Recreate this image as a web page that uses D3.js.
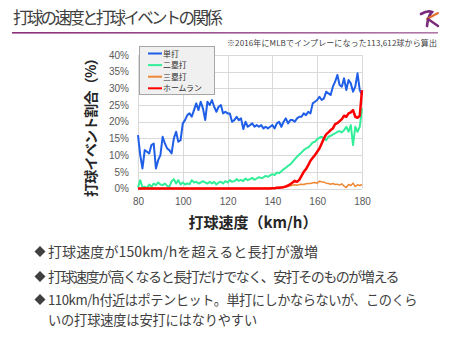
<!DOCTYPE html>
<html><head><meta charset="utf-8">
<script src="https://cdn.jsdelivr.net/npm/d3@7"></script>
<style>
html,body{margin:0;padding:0;background:#fff;}
svg{display:block;font-family:"Noto Sans CJK JP","Noto Sans",sans-serif;}
</style></head>
<body>
<svg id="c" width="450" height="337"></svg>
<script>
const speeds = d3.range(80, 181);
const single = [16,10,6,11.5,11,10.5,13,13.5,6,8.5,10,15.5,13.5,12,11.5,10.5,15,17,14,14.5,
19.5,20.5,22,22.5,21.5,23.5,25.5,23.5,26,24,20.5,26,25,26.5,24.5,23,24.5,25,22.5,23,
22.5,22.5,20,20.5,21.5,20.5,21,17.8,20,18.5,19,19.5,18.5,19,18.5,19,18,18.5,18,18.5,
19,18,19.5,20,18.5,20,21,19.5,20.5,20.5,20,21,21.5,21.5,22.5,22,23,22.5,25.5,26,
26.5,27.5,26.5,27,29,28.5,28,30.5,32,34,31,30.5,33,29.5,32.5,31.5,29,30.5,34.5,29.5,28];
const double = [0.3,2.5,0.3,0.5,0.2,1.2,0.5,1.5,1.0,1.8,1.2,1.0,1.5,0.8,0.5,2.2,2.8,1.5,2.5,1.2,
1.8,1.2,1.5,1.3,2.5,1.8,2.0,1.5,1.8,2.2,1.8,1.5,2.0,1.5,2.0,1.2,1.8,2.0,1.5,2.2,
1.8,2.5,2.0,2.2,2.8,2.3,2.6,2.2,3.0,2.5,2.8,3.2,2.6,3.0,3.4,3.1,3.3,3.8,3.5,3.9,
4.3,4.0,4.8,4.6,5.2,5.8,6.2,6.8,7.2,8.0,8.8,9.5,10.2,10.8,11.5,12.0,12.3,13.0,13.8,14.0,
14.8,15.2,15.5,15.0,14.5,15.5,15.8,16.2,16.5,17.0,17.2,16.8,17.5,18.5,17.0,19.0,13.0,18.5,17.0,18.5,24.0];
const triple = [0,0,0,0,0,0,0,0,0,0,0,0,0,0,0,0,0,0,0,0,
0,0,0,0,0,0,0,0,0,0,0,0,0,0,0,0,0,0,0,0,
0,0,0,0,0,0,0,0,0,0,0.1,0.1,0.1,0.1,0.1,0.1,0.1,0.2,0.1,0.2,
0.2,0.2,0.3,0.3,0.4,0.5,0.6,0.7,0.8,1.0,1.1,1.0,1.2,1.3,1.2,1.4,1.5,1.5,1.7,1.8,
1.6,2.2,2.0,1.9,1.6,1.5,1.3,1.5,1.2,1.3,1.0,1.4,0.7,0.3,1.2,0.9,1.6,0.6,1.1,0.9,1.2];
const homerun = [0,0,0,0,0,0,0,0,0,0,0,0,0,0,0,0,0,0,0,0,
0,0,0,0,0,0,0,0,0,0,0,0,0,0,0,0,0,0,0,0,
0,0,0,0,0,0,0,0,0,0,0,0,0,0,0,0,0,0,0,0,
0.1,0.1,0.2,0.2,0.3,0.4,0.6,0.9,1.3,1.8,2.3,2.0,2.6,3.8,5.0,5.8,7.0,8.3,9.2,10.0,
11.0,12.0,13.5,15.0,16.2,16.8,17.5,18.0,19.3,19.6,20.2,20.8,21.8,21.5,22.5,22.8,23.5,21.5,21.2,21.8,29.5];
const seriesNames = ["単打","二塁打","三塁打","ホームラン"];
const seriesColors = ["#1f5fe8","#33ee99","#ee8833","#ff0000"];
const seriesWidths = [2,2,1.5,2.5];
const xTicks = [80,100,120,140,160,180];
const yTicks = [0,5,10,15,20,25,30,35,40];
const title = "打球の速度と打球イベントの関係";
const note = "※2016年にMLBでインプレーになった113,612球から算出";
const xTitle = "打球速度（km/h）";
const yTitle = "打球イベント割合（%）";
const bullets = [
 {t:"打球速度が150km/hを超えると長打が激増", w:270, d:true},
 {t:"打球速度が高くなると長打だけでなく、安打そのものが増える", w:350, d:true},
 {t:"110km/h付近はポテンヒット。単打にしかならないが、このくら", w:369, d:true},
 {t:"いの打球速度は安打にはなりやすい", w:209, d:false}
];

const svg = d3.select("#c");
function fit(sel, target){
  const n = sel.node();
  const nat = n.getComputedTextLength();
  const len = sel.text().length;
  sel.attr("letter-spacing", ((target - nat)/len).toFixed(3) + "px");
  return sel;
}
// header
fit(svg.append("text").attr("x",13).attr("y",24).attr("font-size",16.5).attr("fill","#404040").text(title), 207);
const grad = svg.append("defs").append("linearGradient").attr("id","ul");
grad.append("stop").attr("offset","0%").attr("stop-color","#8a2e78");
grad.append("stop").attr("offset","100%").attr("stop-color","#b07aa8");
svg.append("rect").attr("x",12).attr("y",32).attr("width",426).attr("height",1.6).attr("fill","url(#ul)");
// logo
svg.append("path").attr("d","M421 14 Q428 10 432 12 Q428 16 427 26").attr("fill","none").attr("stroke","#7a2a7a").attr("stroke-width",2.6).attr("stroke-linecap","round");
svg.append("path").attr("d","M427 19 L438 13").attr("fill","none").attr("stroke","#e0702a").attr("stroke-width",2).attr("stroke-linecap","round");
svg.append("path").attr("d","M428 19 L438 26").attr("fill","none").attr("stroke","#7a2a7a").attr("stroke-width",2.4).attr("stroke-linecap","round");
fit(svg.append("text").attr("x",227).attr("y",46).attr("font-size",8).attr("fill","#404040").text(note), 210);

// chart
const x = d3.scaleLinear().domain([80,180]).range([138,362]);
const y = d3.scaleLinear().domain([0,40]).range([188.5,55]);
const g = svg.append("g");
g.selectAll("line.h").data(yTicks).join("line").attr("x1",138).attr("x2",362)
  .attr("y1",d=>Math.round(y(d))+0.5).attr("y2",d=>Math.round(y(d))+0.5).attr("stroke","#d9d9d9").attr("stroke-width",1);
g.selectAll("line.v").data(xTicks).join("line").attr("y1",y(40)).attr("y2",y(0))
  .attr("x1",d=>Math.round(x(d))+0.5).attr("x2",d=>Math.round(x(d))+0.5).attr("stroke","#d9d9d9").attr("stroke-width",1);
const yAxis = d3.axisLeft(y).tickValues(yTicks).tickFormat(d=>d+"%").tickSize(0).tickPadding(0);
const ya = svg.append("g").attr("transform","translate(129,0)").call(yAxis);
ya.select(".domain").remove();
ya.selectAll("text").attr("font-size",10).attr("fill","#595959").attr("font-family","Liberation Sans, Arial, sans-serif");
const xAxis = d3.axisBottom(x).tickValues(xTicks).tickSize(0).tickPadding(0);
const xa = svg.append("g").attr("transform","translate(0,198)").call(xAxis);
xa.select(".domain").remove();
xa.selectAll("text").attr("font-size",10).attr("fill","#595959").attr("font-family","Liberation Sans, Arial, sans-serif");

const all = [single,double,triple,homerun];
const line = d3.line().x((d,i)=>x(speeds[i])).y(d=>y(d));
all.forEach((s,k)=>{
  svg.append("path").datum(s).attr("d",line).attr("fill","none")
    .attr("stroke",seriesColors[k]).attr("stroke-width",seriesWidths[k]).attr("stroke-linejoin","round");
});

// legend
const lg = svg.append("g");
lg.append("rect").attr("x",139.5).attr("y",46.5).attr("width",75).attr("height",48).attr("fill","#f0f0f0").attr("stroke","#a6a6a6");
seriesNames.forEach((n,k)=>{
  const yy = 53.5 + k*11.6;
  lg.append("line").attr("x1",148).attr("x2",162).attr("y1",yy).attr("y2",yy).attr("stroke",seriesColors[k]).attr("stroke-width",2);
  lg.append("text").attr("x",163).attr("y",yy+3).attr("font-size",7.9).attr("fill","#333").text(n);
});

// axis titles
svg.append("text").attr("x",253).attr("y",228).attr("text-anchor","middle").attr("font-size",15).attr("font-weight","bold").attr("fill","#262626").text(xTitle);
const yt = svg.append("text").attr("transform","translate(96,197) rotate(-90)").attr("text-anchor","start").attr("font-size",14).attr("font-weight","bold").attr("fill","#262626").text(yTitle);
fit(yt, 145);

// bullets
const by = [257, 282, 305, 324.5];
const bs = [14, 14, 13.2, 13.2];
bullets.forEach((b,i)=>{
  if(b.d){
    svg.append("path").attr("d",`M40 ${by[i]-11} L45.5 ${by[i]-5.5} L40 ${by[i]} L34.5 ${by[i]-5.5} Z`).attr("fill","#404040");
  }
  fit(svg.append("text").attr("x",48).attr("y",by[i]).attr("font-size",bs[i]).attr("fill","#404040").text(b.t), b.w);
});
</script>
</body></html>
